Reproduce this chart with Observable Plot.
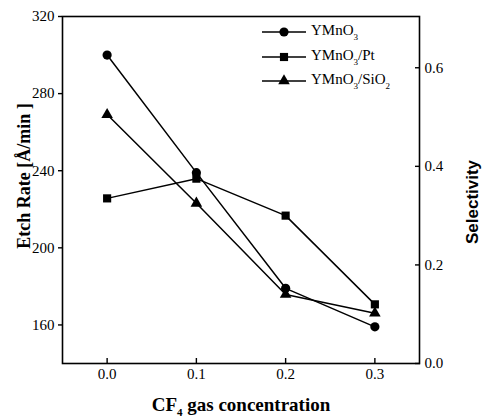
<!DOCTYPE html>
<html>
<head>
<meta charset="utf-8">
<script src="https://cdn.jsdelivr.net/npm/d3@7"></script>
<script src="https://cdn.jsdelivr.net/npm/@observablehq/plot@0.6"></script>
<style>
  body { margin: 0; background: #fff; }
  #wrap { position: relative; width: 487px; height: 420px; font-family: "Liberation Serif", serif; }
  #xtitle { position: absolute; left: 0; width: 482px; top: 394px; text-align: center; font-weight: bold; font-size: 19px; }
  #xtitle sub { font-size: 11px; vertical-align: -5px; }
  #legend { position: absolute; left: 262px; top: 20px; font-size: 15px; }
  .row { position: relative; height: 24.5px; display: flex; align-items: center; }
  .row svg { display: block; }
  .row .lab { margin-left: 5px; }
  .row sub { font-size: 9px; vertical-align: -5px; }
</style>
</head>
<body>
<div id="wrap"></div>
<script>
const concentration = [0.0, 0.1, 0.2, 0.3];
const etchRateYMnO3 = [300, 239, 179, 159];
const selectivityPt = [0.335, 0.375, 0.300, 0.120];
const selectivitySiO2 = [0.505, 0.325, 0.140, 0.102];
const leftTicks = [160, 200, 240, 280, 320];
const rightTicks = [0.0, 0.2, 0.4, 0.6];
const xTicks = [0.0, 0.1, 0.2, 0.3];

const yMin = 140, yMax = 320, selMax = 0.704;
const toLeft = s => yMin + s * (yMax - yMin) / selMax;
const fromLeft = v => (v - yMin) * selMax / (yMax - yMin);

const rows = [];
concentration.forEach((c, i) => {
  rows.push({series: "YMnO3", x: c, y: etchRateYMnO3[i]});
  rows.push({series: "Pt", x: c, y: toLeft(selectivityPt[i])});
  rows.push({series: "SiO2", x: c, y: toLeft(selectivitySiO2[i])});
});
const ser = s => rows.filter(d => d.series === s);

const chart = Plot.plot({
  width: 487,
  height: 420,
  marginLeft: 62,
  marginRight: 68,
  marginTop: 16,
  marginBottom: 57,
  style: { fontFamily: "Liberation Serif, serif", fontSize: "15px", color: "#000", background: "#fff" },
  x: { domain: [-0.05, 0.35] },
  y: { domain: [yMin, yMax] },
  marks: [
    Plot.frame({ stroke: "#000", strokeWidth: 1.6 }),
    Plot.axisX({ ticks: xTicks, tickSize: -5, tickPadding: 10, tickFormat: d => d.toFixed(1), label: null, strokeWidth: 1.4, fontSize: 15 }),
    Plot.axisY({ ticks: leftTicks, tickSize: 4, tickPadding: 4, label: null, strokeWidth: 1.4, fontSize: 15 }),
    Plot.axisY({ anchor: "right", ticks: rightTicks.map(toLeft), tickSize: -5, tickPadding: 10, tickFormat: d => fromLeft(d).toFixed(1), label: null, strokeWidth: 1.4, fontSize: 15 }),
    Plot.line(ser("YMnO3"), { x: "x", y: "y", stroke: "#000", strokeWidth: 1.5 }),
    Plot.line(ser("Pt"), { x: "x", y: "y", stroke: "#000", strokeWidth: 1.5 }),
    Plot.line(ser("SiO2"), { x: "x", y: "y", stroke: "#000", strokeWidth: 1.5 }),
    Plot.dot(ser("YMnO3"), { x: "x", y: "y", symbol: "circle", r: 4.6, fill: "#000" }),
    Plot.dot(ser("Pt"), { x: "x", y: "y", symbol: "square", r: 4.6, fill: "#000" }),
    Plot.dot(ser("SiO2"), { x: "x", y: "y", symbol: "triangle", r: 4.3, fill: "#000" }),
    Plot.text(["Etch Rate [Å/min ]"], { frameAnchor: "left", textAnchor: "middle", dx: -38, dy: -14, rotate: -90, fontWeight: "bold", fontSize: 18, fill: "#000" }),
    Plot.text(["Selectivity"], { frameAnchor: "right", textAnchor: "middle", dx: 53, dy: 12, rotate: -90, fontWeight: "bold", fontSize: 17, fontFamily: "Liberation Sans, sans-serif", fill: "#000" })
  ]
});
const wrap = document.getElementById("wrap");
wrap.appendChild(chart);

const xt = document.createElement("div");
xt.id = "xtitle";
xt.innerHTML = "CF<sub>4</sub> gas concentration";
wrap.appendChild(xt);

const legendItems = [
  { sym: "circle", html: "YMnO<sub>3</sub>" },
  { sym: "square", html: "YMnO<sub>3</sub>/Pt" },
  { sym: "triangle", html: "YMnO<sub>3</sub>/SiO<sub>2</sub>" }
];
const lg = document.createElement("div");
lg.id = "legend";
legendItems.forEach(it => {
  const r = document.createElement("div");
  r.className = "row";
  const sym = it.sym === "circle" ? d3.symbolCircle : it.sym === "square" ? d3.symbolSquare : d3.symbolTriangle;
  const rr = it.sym === "triangle" ? 4.3 : 4.6;
  const path = d3.symbol(sym, Math.PI * rr * rr)();
  r.innerHTML = `<svg width="44" height="14"><line x1="0" x2="44" y1="7" y2="7" stroke="#000" stroke-width="1.5"/><path d="${path}" transform="translate(22,7)" fill="#000"/></svg><span class="lab">${it.html}</span>`;
  lg.appendChild(r);
});
wrap.appendChild(lg);
</script>
</body>
</html>
